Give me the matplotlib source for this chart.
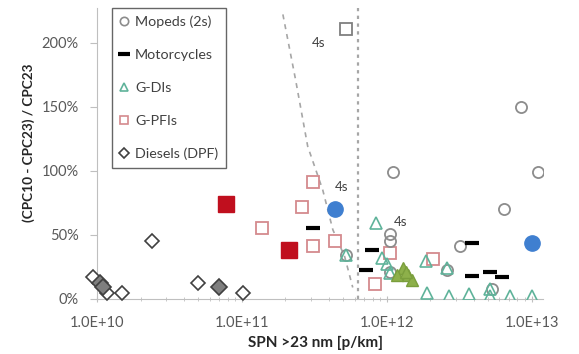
import matplotlib.pyplot as plt
from matplotlib.lines import Line2D
from matplotlib.ticker import FuncFormatter, LogLocator, MultipleLocator

plt.rcParams['font.family'] = ['Lato', 'DejaVu Sans']

# Mopeds (2-stroke), open circles
moped_x = [8.5e12, 1.1e12, 1.1e13, 6.5e12, 3.2e12, 1.05e12, 1.05e12, 5.2e11, 2.6e12, 1.05e12, 5.3e12]
moped_y = [150, 99, 99, 70, 41, 51, 45, 34, 23, 21, 8]
# 4-stroke mopeds, highlighted
moped4s_x = [4.4e11, 1.0e13]
moped4s_y = [70, 44]
moped4s_sq_x = [5.2e11]
moped4s_sq_y = [211]

moto_x = [3.1e11, 7.9e11, 7.2e11, 3.9e12, 3.9e12, 5.2e12, 6.3e12]
moto_y = [55, 38, 23, 44, 18, 21, 17]

gdi_x = [5.2e11, 8.5e11, 9.3e11, 1.05e12, 1.0e12, 1.86e12, 1.9e12, 2.6e12, 2.7e12,
         3.7e12, 5.2e12, 5.2e12, 7.1e12, 1.0e13]
gdi_y = [34, 59, 32, 20, 27, 30, 5, 24, 2, 4, 8, 2, 2, 2]
gdi_fill_x = [1.3e12, 1.4e12, 1.17e12, 1.5e12, 1.35e12]
gdi_fill_y = [24, 19, 19, 15, 21]

gpfi_x = [1.38e11, 3.1e11, 2.6e11, 3.1e11, 4.4e11, 1.05e12, 8.3e11, 2.1e12]
gpfi_y = [55, 91, 72, 41, 45, 36, 12, 31]
gpfi_fill_x = [7.8e10, 2.1e11]
gpfi_fill_y = [74, 38]

diesel_x = [0.94e10, 1.17e10, 1.48e10, 2.4e10, 5.0e10, 1.02e11]
diesel_y = [17, 5, 5, 45, 12.5, 5]
diesel_fill_x = [1.05e10, 1.1e10, 6.9e10]
diesel_fill_y = [12.5, 9, 9.5]

# guide lines
curve_x = [1.92e11, 2.35e11, 2.85e11, 3.62e11, 4.25e11, 5.13e11, 5.83e11]
curve_y = [222, 171, 119, 85, 54, 33, 9]
limit_x = 6.3e11

# "4s" annotations
note_x = [3.4e11, 4.9e11, 1.25e12]
note_y = [200, 87, 60]

fig = plt.figure(figsize=(5.79, 3.54), dpi=100)
ax = fig.add_axes([97 / 579, 55 / 354, 446 / 579, 291 / 354])

grey = '#8c8c8c'
pink = '#d48a8e'
teal = '#5fb39a'

ax.plot(curve_x, curve_y, ls=(0, (3, 3)), color='#a6a6a6', lw=1.2, zorder=1)
ax.axvline(limit_x, ls=(0, (1.5, 2)), color='#a6a6a6', lw=1.6, zorder=1)

ax.plot(diesel_x, diesel_y, 'D', ms=7, mfc='white', mec='#404040', mew=1.2, ls='none', clip_on=False, zorder=3)
ax.plot(diesel_fill_x, diesel_fill_y, 'D', ms=8, mfc='#7f7f7f', mec='#404040', mew=1.2, ls='none', clip_on=False, zorder=3)

ax.plot(gpfi_x, gpfi_y, 's', ms=9, mfc='white', mec=pink, mew=1.3, ls='none', zorder=3)
ax.plot(gpfi_fill_x, gpfi_fill_y, 's', ms=11, mfc='#c00f1e', mec='#c00f1e', ls='none', zorder=3)

ax.plot(moped_x, moped_y, 'o', ms=8, mfc='none', mec=grey, mew=1.3, ls='none', zorder=4)
ax.plot(moped4s_x, moped4s_y, 'o', ms=11, mfc='#3f7fd0', mec='#3f7fd0', ls='none', zorder=4)
ax.plot(moped4s_sq_x, moped4s_sq_y, 's', ms=8, mfc='white', mec='#7f7f7f', mew=1.3, ls='none', zorder=4)

ax.plot(gdi_x, gdi_y, '^', ms=8, mfc='none', mec=teal, mew=1.2, ls='none', zorder=4)
ax.plot(gdi_fill_x, gdi_fill_y, '^', ms=9, mfc='#8db04a', mec='#7a9e3c', mew=1, ls='none', zorder=4)

ax.plot(moto_x, moto_y, '_', ms=10, mew=3, color='black', ls='none', zorder=5)

for x, y in zip(note_x, note_y):
    ax.text(x, y, '4s', fontsize=9.5, color='#404040', ha='center', va='center')

ax.set_xscale('log')
ax.set_xlim(1e10, 1.2e13)
ax.set_ylim(0, 227)
ax.xaxis.set_major_locator(LogLocator(base=10, numticks=10))
ax.xaxis.set_minor_locator(LogLocator(base=10, subs=range(2, 10), numticks=10))
ax.xaxis.set_major_formatter(FuncFormatter(lambda v, p: f'{v:.1E}'))
ax.yaxis.set_major_locator(MultipleLocator(50))
ax.yaxis.set_major_formatter(FuncFormatter(lambda v, p: f'{v:.0f}%'))

for side in ['top', 'right']:
    ax.spines[side].set_visible(False)
for side in ['left', 'bottom']:
    ax.spines[side].set_color('#bfbfbf')
ax.tick_params(axis='both', which='both', colors='#bfbfbf', labelcolor='#595959', labelsize=10.5)
ax.tick_params(axis='x', which='major', length=4, direction='inout', pad=10)
ax.tick_params(axis='x', which='minor', length=3, direction='inout')
ax.tick_params(axis='y', length=5, direction='out', pad=8)

ax.set_ylabel('(CPC10 - CPC23) / CPC23', fontsize=9.8, fontweight='bold', color='#262626')
ax.yaxis.set_label_coords(-0.139, 0.536)
ax.set_xlabel('SPN >23 nm [p/km]', fontsize=11, fontweight='bold', color='#262626')
ax.xaxis.set_label_coords(0.489, -0.125)

handles = [
    Line2D([], [], marker='o', ms=6, mfc='none', mec=grey, mew=1.2, ls='none'),
    Line2D([], [], marker='_', ms=8, mew=3, color='black', ls='none'),
    Line2D([], [], marker='^', ms=6, mfc='none', mec=teal, mew=1.2, ls='none'),
    Line2D([], [], marker='s', ms=6, mfc='none', mec=pink, mew=1.2, ls='none'),
    Line2D([], [], marker='D', ms=5, mfc='none', mec='#404040', mew=1.2, ls='none'),
]
labels = ['Mopeds (2s)', 'Motorcycles', 'G-DIs', 'G-PFIs', 'Diesels (DPF)']
leg = ax.legend(handles, labels, loc='upper left', bbox_to_anchor=(15 / 446, 1.0),
                fontsize=10.3, frameon=True, fancybox=False, labelspacing=1.45,
                handlelength=0.6, handletextpad=0.45, borderpad=0.55, borderaxespad=0)
leg.get_frame().set_edgecolor('#404040')
leg.get_frame().set_linewidth(1)
for t in leg.get_texts():
    t.set_color('#404040')

fig.savefig('out.png', dpi=100)
